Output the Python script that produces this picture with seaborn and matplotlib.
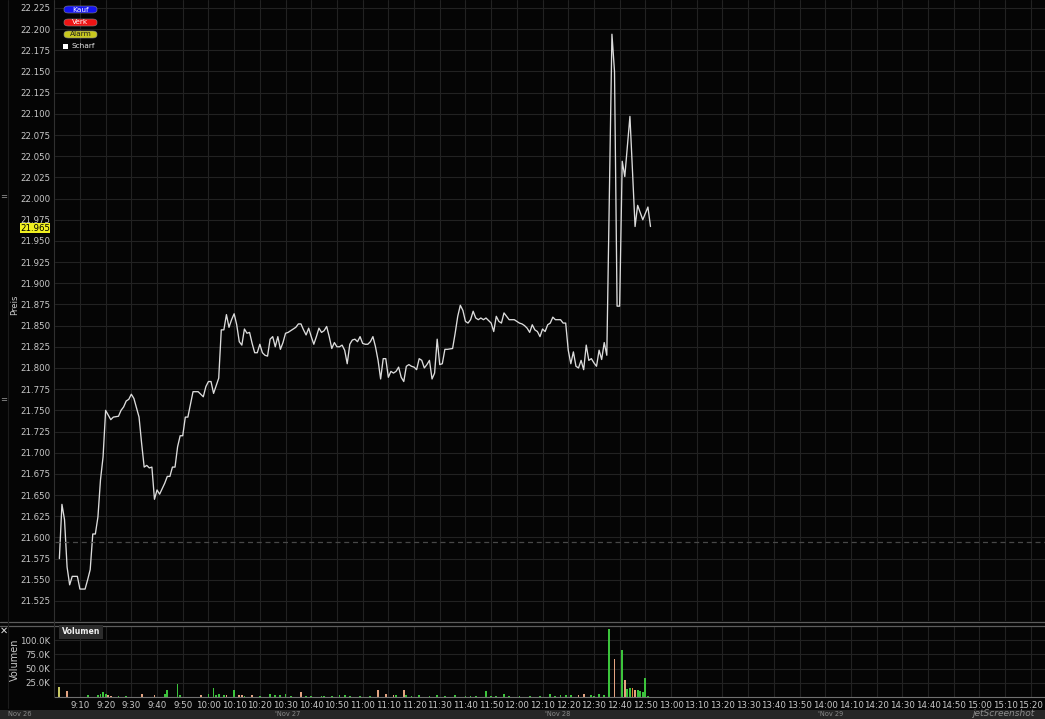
import numpy as np
import pandas as pd
import matplotlib
matplotlib.use("Agg")
import matplotlib.pyplot as plt
from matplotlib.lines import Line2D
from matplotlib.patches import FancyBboxPatch, Rectangle
import seaborn as sns

# ---------------- data ----------------
# minutes after 09:00
price_min = [2,3,4,5,6,7,9,10,12,13,14,15,16,17,18,19,20,22,23,25,26,27,28,29,30,31,33,34,35,36,37,38,39,40,41,43,44,45,46,47,48,49,50,51,52,54,56,58,59,60,61,62,63,64,65,66,67,68,69,70,71,72,73,74,75,76,77,78,79,80,81,82,83,84,85,86,87,88,89,90,91,93,94,95,96,97,98,99,100,101,102,103,104,105,106,107,108,109,110,111,112,113,114,115,116,117,118,119,120,121,122,123,124,125,126,127,128,129,130,131,132,133,134,135,136,137,138,139,140,141,142,143,144,145,146,147,148,149,150,151,152,153,155,156,157,158,159,160,161,162,163,164,165,166,167,168,169,170,171,172,173,174,175,176,177,178,179,180,181,182,183,184,185,186,187,188,189,190,191,192,193,194,195,197,198,199,200,201,202,203,204,205,206,207,208,209,210,211,212,213,214,215,217,218,219,220,221,222,224,226,227,229,231,232]
price = [21.575,21.639,21.621,21.565,21.544,21.554,21.554,21.539,21.539,21.550,21.562,21.604,21.604,21.624,21.668,21.695,21.750,21.739,21.742,21.743,21.750,21.754,21.761,21.763,21.769,21.764,21.742,21.711,21.683,21.685,21.682,21.683,21.645,21.656,21.651,21.664,21.672,21.672,21.683,21.683,21.707,21.720,21.720,21.742,21.742,21.772,21.772,21.766,21.778,21.784,21.784,21.770,21.779,21.788,21.845,21.845,21.863,21.848,21.857,21.864,21.851,21.831,21.827,21.846,21.841,21.842,21.829,21.818,21.818,21.828,21.818,21.815,21.814,21.834,21.837,21.825,21.837,21.822,21.830,21.841,21.842,21.846,21.848,21.852,21.852,21.845,21.839,21.847,21.837,21.828,21.837,21.847,21.842,21.844,21.849,21.837,21.823,21.830,21.825,21.825,21.827,21.821,21.805,21.828,21.833,21.834,21.831,21.837,21.829,21.828,21.828,21.831,21.837,21.825,21.809,21.787,21.811,21.811,21.789,21.796,21.794,21.796,21.801,21.789,21.784,21.802,21.804,21.802,21.801,21.798,21.811,21.809,21.800,21.804,21.809,21.787,21.794,21.834,21.804,21.805,21.822,21.822,21.823,21.841,21.861,21.874,21.868,21.855,21.853,21.857,21.867,21.859,21.857,21.859,21.857,21.859,21.856,21.853,21.843,21.861,21.855,21.853,21.865,21.861,21.857,21.857,21.857,21.855,21.853,21.852,21.850,21.847,21.842,21.851,21.845,21.843,21.837,21.846,21.843,21.851,21.853,21.860,21.857,21.857,21.853,21.853,21.821,21.805,21.819,21.802,21.800,21.809,21.798,21.827,21.809,21.811,21.806,21.802,21.821,21.810,21.830,21.815,22.194,22.150,21.873,21.873,22.044,22.026,22.097,21.967,21.992,21.975,21.990,21.967]

vol_min = [2,5,13,17,18,19,20,21,22,25,28,34,39,43,44,48,49,57,60,62,63,64,66,67,70,72,73,74,77,80,84,86,88,90,92,96,98,100,104,105,108,111,113,115,119,123,126,129,132,133,136,137,139,142,146,149,152,156,160,162,164,168,170,172,175,177,181,185,189,193,195,197,199,201,204,206,209,210,212,214,216,218,221,222,223,224,225,226,227,228,229,230,231]
vol_k = [17,10,3,4,5,8,5,4,2,2, 2,6,3,5,13,23,3,3,6,16, 4,6,3,3,12,3,4,2,3,2, 6,3,3,6,2,8,2,2,2,2, 2,3,4,2,2,2,12,6,3,4, 12,3,2,4,2,4,2,3,2,2, 2,11,2,2,5,2,2,2,2,5, 2,3,3,3,3,5,3,2,6,4, 119,67,82,29,14,16,15,12,13,11, 9,33,2]
vol_dir = ['n','d','u','u','u','u','u','d','d','u',
           'u','d','d','u','u','u','u','d','u','u',
           'u','u','u','d','u','d','d','u','d','u',
           'u','u','u','u','u','d','u','u','u','u',
           'u','u','u','u','u','u','d','d','d','u',
           'd','u','u','u','u','u','u','u','u','u',
           'u','u','u','u','u','u','u','u','u','u',
           'u','u','u','u','d','d','u','u','u','u',
           'u','d','u','d','u','u','o','d','u','u',
           'u','u','u']
assert len(vol_min) == len(vol_k) == len(vol_dir)
assert len(price_min) == len(price)

price_ticks = [21.525 + 0.025 * i for i in range(29)]
vol_ticks = [25, 50, 75, 100]
vol_tick_labels = ["25.0K", "50.0K", "75.0K", "100.0K"]
time_ticks = list(range(10, 390, 10))
time_labels = [f"{9 + m // 60}:{m % 60:02d}" for m in time_ticks]
prev_close = 21.5945
last_price = 21.965
date_labels = ["Nov 26", "'Nov 27", "'Nov 28", "'Nov 29"]

# ---------------- style ----------------
W, H = 1045, 719
BG = "#050505"
GRID = "#222222"
TXT = "#c8c8c8"
sns.set_style("dark")
plt.rcParams["font.family"] = ["DejaVu Sans"]

fig = plt.figure(figsize=(W / 100, H / 100), dpi=100, facecolor=BG)

def fx(px):
    return px / W

def fy(py):
    return 1 - py / H

ax_p = fig.add_axes([fx(55), fy(621), fx(990), 621 / H])
ax_v = fig.add_axes([fx(55), fy(697), fx(990), 71 / H])

for ax in (ax_p, ax_v):
    ax.set_facecolor(BG)
    for s in ax.spines.values():
        s.set_visible(False)
    ax.grid(True, color=GRID, linewidth=0.8)
    ax.set_axisbelow(True)
    ax.tick_params(length=0, colors=TXT, labelsize=6.2)

# price panel
pdf = pd.DataFrame({"minute": price_min, "price": price})
sns.lineplot(data=pdf, x="minute", y="price", ax=ax_p, color="#dcdcdc",
             linewidth=0.95, sort=False)
ax_p.axhline(prev_close, color="#484848", linewidth=0.9, linestyle=(0, (4, 3)))
ax_p.set_xlim(0.3, 385.5)
ax_p.set_ylim(21.5013, 22.2344)
ax_p.set_yticks(price_ticks)
ax_p.set_yticklabels([f"{v:.3f}" for v in price_ticks])
ax_p.set_xticks(time_ticks)
ax_p.set_xticklabels([])
ax_p.tick_params(axis="y", pad=3.6)
ax_p.set_xlabel("")
ax_p.set_ylabel("")
ax_p.annotate(f"{last_price:.3f}", xy=(0, last_price), xycoords=("axes fraction", "data"),
              xytext=(-3.6, 0), textcoords="offset points", ha="right", va="center",
              fontsize=6.2, color="#000000",
              bbox=dict(boxstyle="square,pad=0.05", fc="#f0f020", ec="none"))

# volume panel
vdf = pd.DataFrame({"minute": vol_min, "vol": vol_k, "dir": vol_dir})
pal = {"u": "#3cc43c", "d": "#e3a381", "n": "#c8c864", "o": "#e0883a"}
sns.barplot(data=vdf, x="minute", y="vol", hue="dir", palette=pal, native_scale=True,
            dodge=False, width=0.7, ax=ax_v, legend=False, linewidth=0, saturation=1)
ax_v.set_xlim(0.3, 385.5)
ax_v.set_ylim(0, 124.6)
ax_v.set_yticks(vol_ticks)
ax_v.set_yticklabels(vol_tick_labels)
ax_v.set_xticks(time_ticks)
ax_v.set_xticklabels(time_labels)
ax_v.tick_params(axis="y", pad=3.6)
ax_v.tick_params(axis="x", pad=3)
ax_v.spines["bottom"].set_visible(True)
ax_v.spines["bottom"].set_color("#707070")
ax_v.spines["bottom"].set_linewidth(0.8)
ax_v.set_xlabel("")
ax_v.set_ylabel("")

# ---------------- decorations ----------------
for yy in (622, 626):
    fig.add_artist(Line2D([fx(0), 1], [fy(yy), fy(yy)], color="#5c5c5c", linewidth=0.9))
fig.add_artist(Line2D([fx(54), fx(54)], [fy(0), fy(697)], color="#303030", linewidth=0.8))
fig.add_artist(Line2D([fx(8), fx(8)], [fy(0), fy(708)], color="#1c1c1c", linewidth=0.8))

fig.text(fx(15), fy(305), "Preis", rotation=90, ha="center", va="center", color=TXT, fontsize=6.2)
fig.text(fx(15), fy(660), "Volumen", rotation=90, ha="center", va="center", color=TXT, fontsize=7)
for yy in (197, 400):
    fig.text(fx(4), fy(yy), "=", ha="center", va="center", color="#9a9a9a", fontsize=6)
fig.text(fx(4), fy(631), "✕", ha="center", va="center", color="#e0e0e0", fontsize=7, fontweight="bold")

# Volumen box
fig.text(fx(62), fy(632), "Volumen", ha="left", va="center", color="#f0f0f0", fontsize=5.6,
         fontweight="bold", bbox=dict(boxstyle="square,pad=0.35", fc="#2c2c2c", ec="none"))

# buttons
buttons = [("Kauf", "#1414f0", "#ffffff", 9.5), ("Verk", "#f01414", "#ffffff", 22.5),
           ("Alarm", "#c8c81e", "#202020", 34.5)]
for label, fc, tc, yc in buttons:
    fig.add_artist(FancyBboxPatch((fx(64), fy(yc + 3.5)), fx(33), 7 / H,
                                  boxstyle="round,pad=0.0,rounding_size=0.004",
                                  transform=fig.transFigure, fc=fc, ec="#888888", lw=0.4))
    fig.text(fx(80.5), fy(yc), label, ha="center", va="center", color=tc, fontsize=5.3)
fig.add_artist(Rectangle((fx(63), fy(49)), fx(5), 5 / H, transform=fig.transFigure,
                         fc="#ffffff", ec="none"))
fig.text(fx(71), fy(46.5), "Scharf", ha="left", va="center", color="#e8e8e8", fontsize=5.3)

# bottom strip
fig.add_artist(Rectangle((0, 0), 1, 9.5 / H, transform=fig.transFigure, fc="#262626", ec="none"))
for lab, px in zip(date_labels, [8, 275, 545, 818]):
    fig.text(fx(px), fy(714.5), lab, ha="left", va="center", color="#8a8a8a", fontsize=4.8)

fig.text(fx(1003), fy(713.5), "jetScreenshot", ha="center", va="center", color="#b0b0b0",
         fontsize=6.5, style="italic", alpha=0.75)

fig.savefig("out.png", dpi=100, facecolor=BG)
